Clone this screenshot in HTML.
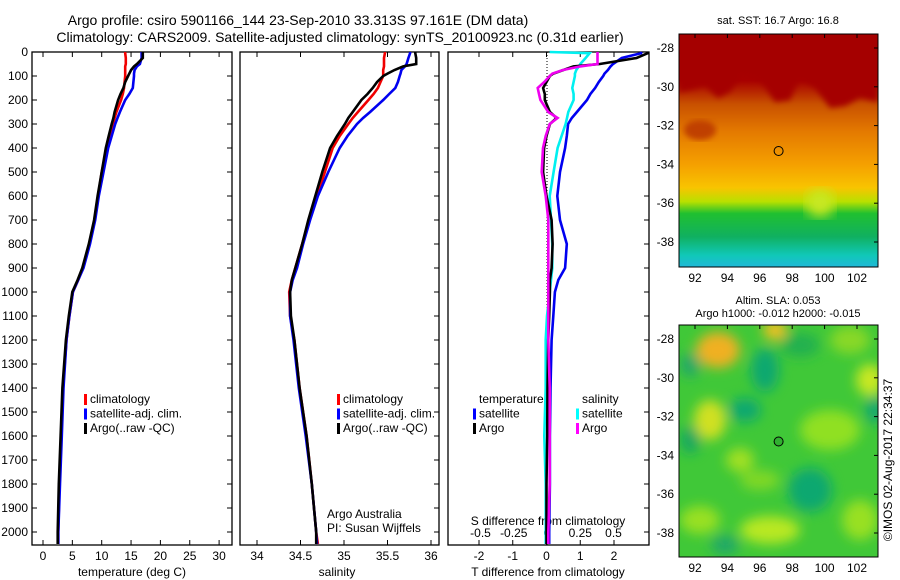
<!DOCTYPE html>
<html><head><meta charset="utf-8"><style>
body{margin:0;background:#fff;}
svg{display:block;font-family:"Liberation Sans",sans-serif;}
</style></head><body>
<svg id="s" width="900" height="580" viewBox="0 0 900 580" xmlns="http://www.w3.org/2000/svg">
<defs>
<linearGradient id="sstg" x1="0" y1="0" x2="0" y2="1">
<stop offset="0" stop-color="#a50000"/><stop offset="0.2" stop-color="#a80000"/>
<stop offset="0.3" stop-color="#c85000"/><stop offset="0.42" stop-color="#e47a00"/>
<stop offset="0.56" stop-color="#f5a000"/><stop offset="0.66" stop-color="#f8c400"/>
<stop offset="0.72" stop-color="#b8e000"/><stop offset="0.77" stop-color="#20c030"/>
<stop offset="0.87" stop-color="#10b060"/><stop offset="0.95" stop-color="#10c8b8"/>
<stop offset="1" stop-color="#20b8d8"/></linearGradient>
<filter id="bl"><feGaussianBlur stdDeviation="6"/></filter>
<filter id="bl2"><feGaussianBlur stdDeviation="3"/></filter>
<clipPath id="c1"><rect x="679" y="34" width="199" height="233"/></clipPath>
<clipPath id="c2"><rect x="679" y="325" width="199" height="232"/></clipPath>
</defs>
<text x="298" y="25" font-size="14" text-anchor="middle">Argo profile: csiro 5901166_144 23-Sep-2010 33.313S 97.161E (DM data)</text>
<text x="340" y="42" font-size="14" text-anchor="middle">Climatology: CARS2009. Satellite-adjusted climatology: synTS_20100923.nc (0.31d earlier)</text>

<g clip-path="url(#c1)">
<rect x="679" y="34" width="199" height="233" fill="url(#sstg)"/>
<path d="M679,34 H878 V102 L860,98 L845,106 L830,108 L815,88 L800,78 L790,100 L775,102 L760,80 L742,74 L730,92 L718,98 L705,86 L690,90 L679,92 Z" fill="#a50000" filter="url(#bl2)"/>
<ellipse cx="700" cy="130" rx="16" ry="10" fill="#c04000" filter="url(#bl2)"/>
<ellipse cx="820" cy="203" rx="14" ry="14" fill="#c8e820" filter="url(#bl)"/>
</g>
<text x="778" y="24" font-size="11" text-anchor="middle">sat. SST: 16.7 Argo: 16.8</text>
<text x="778" y="304" font-size="11" text-anchor="middle">Altim. SLA: 0.053</text>
<text x="778" y="317" font-size="11" text-anchor="middle">Argo h1000: -0.012 h2000: -0.015</text>
<g clip-path="url(#c2)">
<rect x="679" y="325" width="199" height="232" fill="#40c838"/>
<g filter="url(#bl)">
<ellipse cx="718" cy="350" rx="22" ry="18" fill="#f0b020"/>
<ellipse cx="775" cy="330" rx="12" ry="10" fill="#f0c020"/>
<ellipse cx="710" cy="420" rx="16" ry="20" fill="#d0e020"/>
<ellipse cx="870" cy="380" rx="14" ry="16" fill="#c8e820"/>
<ellipse cx="770" cy="530" rx="30" ry="14" fill="#b8e820"/>
<ellipse cx="830" cy="430" rx="30" ry="20" fill="#90e020"/>
<ellipse cx="740" cy="460" rx="14" ry="12" fill="#a0e020"/>
<ellipse cx="700" cy="520" rx="20" ry="14" fill="#98e020"/>
<ellipse cx="860" cy="520" rx="18" ry="20" fill="#98e020"/>
<ellipse cx="760" cy="480" rx="20" ry="10" fill="#80d828"/>
<ellipse cx="850" cy="340" rx="20" ry="14" fill="#88d828"/>
<ellipse cx="765" cy="370" rx="14" ry="22" fill="#10a870"/>
<ellipse cx="745" cy="410" rx="16" ry="12" fill="#10a870"/>
<ellipse cx="810" cy="490" rx="22" ry="22" fill="#10a870"/>
<ellipse cx="690" cy="440" rx="10" ry="14" fill="#18a860"/>
<ellipse cx="875" cy="410" rx="10" ry="14" fill="#18a870"/>
<ellipse cx="800" cy="345" rx="20" ry="12" fill="#20b050"/>
<ellipse cx="690" cy="365" rx="10" ry="12" fill="#20a868"/>
<ellipse cx="725" cy="545" rx="14" ry="10" fill="#20a868"/>
</g></g>
<circle cx="778.6" cy="151" r="4.5" fill="none" stroke="#000"/>
<circle cx="778.6" cy="441.5" r="4.5" fill="#30b030" stroke="#000"/>
<text transform="translate(892,460) rotate(-90)" font-size="12" text-anchor="middle">©IMOS 02-Aug-2017 22:34:37</text>
<g id="plots"></g>
</svg>
<script>
const depths=[0,5,25,50,60,75,90,100,125,150,175,200,250,275,300,350,400,500,600,700,800,900,950,1000,1100,1200,1400,1600,1800,2000,2050];
const tClim=[14.0,14.0,14.1,14.1,14.0,14.0,14.0,14.0,13.9,13.8,13.6,13.3,12.5,12.2,11.9,11.4,10.9,10.0,9.4,8.8,7.9,6.8,6.0,5.1,4.5,4.0,3.4,3.1,2.8,2.6,2.6];
const tSat=[16.8,16.8,16.8,16.5,16.0,15.6,15.5,15.5,15.4,15.3,14.7,14.0,13.1,12.7,12.3,11.7,11.1,10.3,9.5,8.9,8.0,6.9,6.0,5.1,4.5,4.0,3.5,3.2,2.9,2.6,2.6];
const tArgo=[17.0,17.0,17.0,16.0,15.5,15.0,14.7,14.5,14.0,13.7,13.2,12.8,12.2,12.0,11.7,11.2,10.7,10.0,9.3,8.7,7.8,6.7,5.9,5.0,4.4,3.9,3.3,3.0,2.7,2.5,2.5];
const sClim=[35.47,35.47,35.46,35.46,35.46,35.45,35.45,35.45,35.42,35.39,35.34,35.28,35.16,35.1,35.05,34.95,34.87,34.78,34.69,34.6,34.52,34.44,34.4,34.37,34.38,34.43,34.49,34.57,34.63,34.68,34.7];
const sSat=[35.76,35.76,35.74,35.72,35.7,35.66,35.65,35.64,35.62,35.59,35.52,35.45,35.3,35.22,35.15,35.04,34.95,34.82,34.7,34.61,34.53,34.46,34.41,34.38,34.38,34.42,34.48,34.56,34.63,34.68,34.69];
const sArgo=[35.82,35.82,35.83,35.83,35.68,35.58,35.5,35.45,35.38,35.33,35.27,35.2,35.1,35.05,35.01,34.92,34.84,34.75,34.67,34.59,34.52,34.44,34.4,34.38,34.39,34.43,34.49,34.57,34.63,34.68,34.68];
const dtSat=[2.82,2.8,2.23,1.97,1.9,1.82,1.72,1.68,1.55,1.44,1.3,1.2,0.9,0.75,0.64,0.6,0.55,0.4,0.32,0.4,0.6,0.55,0.35,0.25,0.2,0.15,0.12,0.1,0.1,0.08,0.08];
const dtArgo=[3.0,3.0,2.67,1.58,0.8,0.5,0.2,0.1,0.0,-0.1,-0.05,-0.05,0.1,0.3,0.1,0.0,-0.07,-0.1,0.0,0.15,0.18,0.15,0.1,0.1,0.08,0.05,0.03,0.02,0.0,0.0,0.0];
const dsSat=[0.02,0.32,0.29,0.25,0.24,0.22,0.21,0.21,0.2,0.19,0.2,0.2,0.16,0.15,0.14,0.11,0.08,0.05,0.02,0.03,0.04,0.04,0.03,0.02,0.0,-0.01,-0.01,-0.02,-0.01,-0.01,-0.01];
const dsArgo=[0.38,0.38,0.38,0.38,0.25,0.12,0.04,0.02,-0.02,-0.07,-0.06,-0.05,0.01,0.08,0.02,-0.01,-0.03,-0.04,-0.01,0.01,0.01,0.01,0.01,0.01,0.01,0.01,0.02,0.02,0.02,0.01,0.01];
const depthTicks=[0,100,200,300,400,500,600,700,800,900,1000,1100,1200,1300,1400,1500,1600,1700,1800,1900,2000];
const tTicks=[0,5,10,15,20,25,30];
const sTicks=[34,34.5,35,35.5,36];
const dtTicks=[-2,-1,0,1,2];
const dsTicks=[-0.5,-0.25,0,0.25,0.5];
const mapLatTicks=[-28,-30,-32,-34,-36,-38];
const mapLonTicks=[92,94,96,98,100,102];

const NS='http://www.w3.org/2000/svg';
const root=document.getElementById('plots');
function el(tag,attrs,parent,txt){const e=document.createElementNS(NS,tag);for(const k in attrs)e.setAttribute(k,attrs[k]);if(txt!==undefined)e.textContent=txt;(parent||root).appendChild(e);return e;}
const yD=d=>52+0.24*d;
const TOP=52,BOT=545;
const xT=v=>43+5.87*v;
const xS=v=>257+87*(v-34);
const xDT=v=>546.5+33.75*v;
const xDS=v=>547+133*v;

function box(x0,x1,name){
  const r=el('rect',{x:x0,y:TOP,width:x1-x0,height:BOT-TOP,fill:'none',stroke:'#000','stroke-width':1.3});
  
  
}
function xAxis(ticks,fx,y,labelY,fmt,name){
  const g=el('g',{});
  
  
  ticks.forEach(t=>{const x=fx(t);
    el('line',{x1:x,x2:x,y1:TOP,y2:TOP+5,stroke:'#000'},g);
    el('line',{x1:x,x2:x,y1:y,y2:y-5,stroke:'#000'},g);
    el('text',{x:x,y:labelY,'font-size':12,'text-anchor':'middle'},g,fmt?fmt(t):String(t));});
}
function series(vals,fx,color,name){
  const pts=vals.map((v,i)=>fx(v).toFixed(1)+','+yD(depths[i]).toFixed(1)).join(' ');
  const p=el('polyline',{points:pts,fill:'none',stroke:color,'stroke-width':2.6,'stroke-linejoin':'miter'});
  
  
}
function legend(x,y,items,name){
  const g=el('g',{});
  
  
  items.forEach((it,i)=>{
    if(it[1]) el('rect',{x:x,y:y+i*14.5-9,width:3,height:11,fill:it[1]},g);
    el('text',{x:x+6,y:y+i*14.5,'font-size':12},g,it[0]);});
}

box(32,232,'temperature-panel');
const ya=el('g',{});


depthTicks.forEach(d=>{const y=yD(d);
  el('text',{x:28,y:y+4,'font-size':12,'text-anchor':'end'},ya,String(d));
  el('line',{x1:32,x2:37,y1:y,y2:y,stroke:'#000'},ya);
  el('line',{x1:232,x2:227,y1:y,y2:y,stroke:'#000'},ya);
  el('line',{x1:439,x2:434,y1:y,y2:y,stroke:'#000'},ya);
  el('line',{x1:649,x2:644,y1:y,y2:y,stroke:'#000'},ya);});
xAxis(tTicks,xT,BOT,560,null,'temperature-axis');
el('text',{x:132,y:576,'font-size':12,'text-anchor':'middle'},root,'temperature (deg C)');
series(tClim,xT,'#f00000','temp-climatology-line');
series(tSat,xT,'#0000f0','temp-satellite-line');
series(tArgo,xT,'#000','temp-argo-line');
legend(84,403,[['climatology','#f00'],['satellite-adj. clim.','#00f'],['Argo(..raw -QC)','#000']],'temperature-legend');

box(240,439,'salinity-panel');
xAxis(sTicks,xS,BOT,560,null,'salinity-axis');
el('text',{x:337,y:576,'font-size':12,'text-anchor':'middle'},root,'salinity');
series(sClim,xS,'#f00000','sal-climatology-line');
series(sSat,xS,'#0000f0','sal-satellite-line');
series(sArgo,xS,'#000','sal-argo-line');
legend(337,403,[['climatology','#f00'],['satellite-adj. clim.','#00f'],['Argo(..raw -QC)','#000']],'salinity-legend');
el('text',{x:327,y:518,'font-size':12},root,'Argo Australia');
el('text',{x:327,y:532,'font-size':12},root,'PI: Susan Wijffels');

box(448,649,'difference-panel');
el('line',{x1:547,x2:547,y1:TOP,y2:BOT,stroke:'#000','stroke-dasharray':'1,2'});
xAxis(dtTicks,xDT,BOT,560,null,'t-diff-axis');
const sda=el('g',{});


dsTicks.forEach(t=>el('text',{x:xDS(t),y:537,'font-size':12,'text-anchor':'middle'},sda,String(t)));
el('text',{x:548,y:525,'font-size':12,'text-anchor':'middle'},root,'S difference from climatology');
el('text',{x:548,y:576,'font-size':12,'text-anchor':'middle'},root,'T difference from climatology');
series(dtSat,xDT,'#0000f0','tdiff-satellite-line');
series(dsSat,xDS,'#00f0f0','sdiff-satellite-line');
series(dtArgo,xDT,'#000','tdiff-argo-line');
series(dsArgo,xDS,'#f000f0','sdiff-argo-line');
legend(473,403,[['temperature',null],['satellite','#00f'],['Argo','#000']],'tdiff-legend');
legend(576,403,[['salinity',null],['satellite','#0ff'],['Argo','#f0f']],'sdiff-legend');

function mapAxes(y0,y1,lat0y,name){
  const g=el('g',{});
  
  
  el('rect',{x:679,y:y0,width:199,height:y1-y0,fill:'none',stroke:'#000'},g);
  mapLatTicks.forEach(l=>{const y=lat0y+(-28-l)*19.4;
    el('text',{x:674,y:y+4,'font-size':12,'text-anchor':'end'},g,String(l));
    el('line',{x1:878,x2:874,y1:y,y2:y,stroke:'#000'},g);});
  mapLonTicks.forEach(l=>{const x=695+(l-92)*16.2;
    el('text',{x:x,y:y1+15,'font-size':12,'text-anchor':'middle'},g,String(l));
    el('line',{x1:x,x2:x,y1:y0,y2:y0+4,stroke:'#000'},g);});
}
mapAxes(34,267,48,'sst-map-axes');
mapAxes(325,557,339,'sla-map-axes');
</script>
</body></html>
